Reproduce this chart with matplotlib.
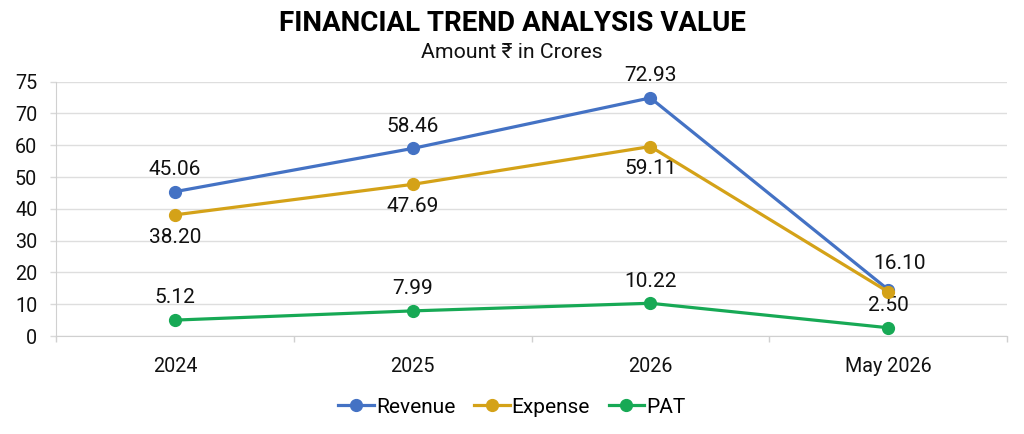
import matplotlib
matplotlib.use("Agg")
import matplotlib.pyplot as plt

plt.rcParams['font.family'] = ['Roboto', 'Noto Sans', 'DejaVu Sans']

categories = ["2024", "2025", "2026", "May 2026"]
revenue = [45.4, 59.0, 74.9, 14.6]
expense = [38.1, 47.7, 59.6, 13.9]
pat = [5.0, 7.9, 10.3, 2.6]
revenue_labels = ["45.06", "58.46", "72.93", "16.10"]
expense_labels = ["38.20", "47.69", "59.11", ""]
pat_labels = ["5.12", "7.99", "10.22", "2.50"]
ytick_vals = [0, 10, 20, 30, 40, 50, 60, 70, 80]
ytick_labels = ["0", "10", "20", "30", "40", "50", "60", "70", "75"]

c_rev = "#4472C4"
c_exp = "#D4A218"
c_pat = "#17A955"

fig = plt.figure(figsize=(10.24, 4.34), dpi=100)
ax = fig.add_axes([0.0547, 0.2258, 0.9287, 0.586])

x = list(range(len(categories)))
ax.plot(x, revenue, color=c_rev, lw=2.3, marker='o', ms=8.5, label="Revenue", zorder=3)
ax.plot(x, expense, color=c_exp, lw=2.3, marker='o', ms=8.5, label="Expense", zorder=4)
ax.plot(x, pat, color=c_pat, lw=2.3, marker='o', ms=8.5, label="PAT", zorder=3)

fs = 15
for i, (v, t) in enumerate(zip(revenue, revenue_labels)):
    dx = 8 if i == 3 else 0
    dy = 19 if i == 3 else 16
    ax.annotate(t, (i, v), xytext=(dx, dy), textcoords='offset points',
                ha='center', va='center', fontsize=fs, color='#111111')
for i, (v, t) in enumerate(zip(expense, expense_labels)):
    if t:
        ax.annotate(t, (i, v), xytext=(0, -16), textcoords='offset points',
                    ha='center', va='center', fontsize=fs, color='#111111')
for i, (v, t) in enumerate(zip(pat, pat_labels)):
    ax.annotate(t, (i, v), xytext=(0, 16), textcoords='offset points',
                ha='center', va='center', fontsize=fs, color='#111111')

ax.set_xlim(-0.5, 3.5)
ax.set_ylim(0, 80)
ax.set_xticks(x)
ax.set_xticklabels(categories, fontsize=14.2, color='#111111')
ax.set_xticks([-0.5, 0.5, 1.5, 2.5, 3.5], minor=True)
ax.tick_params(axis='x', which='major', length=0, pad=15)
ax.tick_params(axis='x', which='minor', length=4.5, color='#d0d0d0', width=1)
ax.set_yticks(ytick_vals)
ax.set_yticklabels(ytick_labels, fontsize=14.2, color='#111111')
ax.tick_params(axis='y', length=4.5, color='#d9d9d9', width=1, pad=9)
ax.grid(axis='y', color='#dedede', lw=1)
ax.set_axisbelow(True)
for s in ['top', 'right']:
    ax.spines[s].set_visible(False)
ax.spines['left'].set_color('#d0d0d0')
ax.spines['bottom'].set_color('#d0d0d0')

fig.text(0.5, 0.947, "FINANCIAL TREND ANALYSIS VALUE", ha='center', va='center',
         fontsize=20, fontweight='bold', color='#000000')
fig.text(0.5, 0.879, "Amount ₹ in Crores", ha='center', va='center',
         fontsize=15.3, color='#111111')

leg = fig.legend(loc='center', bbox_to_anchor=(0.5, 0.062), ncol=3, frameon=False,
                 fontsize=15, handlelength=1.7, handletextpad=0.1, columnspacing=0.9)

fig.savefig("out.png", dpi=100, facecolor='white')
